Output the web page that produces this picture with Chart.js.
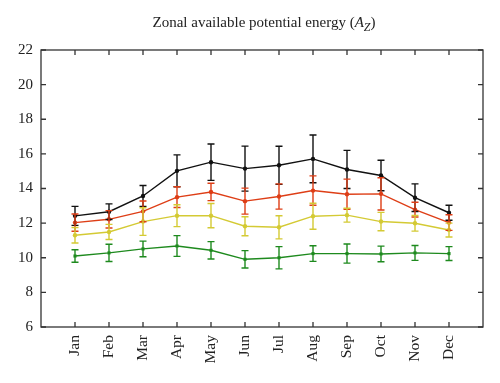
<!DOCTYPE html>
<html>
<head>
<meta charset="utf-8">
<script src="https://cdn.jsdelivr.net/npm/chart.js@4"></script>
<style>
  html, body { margin: 0; padding: 0; background: #fff; }
  #wrap { position: relative; width: 500px; height: 383px; }
  #title { position: absolute; left: 41px; width: 446px; top: 14px; text-align: center;
           font-family: "Liberation Serif", "DejaVu Serif", serif; font-size: 15px; line-height: 16px; color: #222; }
  #title sub { font-size: 12px; vertical-align: -4px; line-height: 0; }
  canvas { position: absolute; left: 0; top: 0; }
</style>
</head>
<body>
<div id="wrap">
  <canvas id="c" width="500" height="383"></canvas>
  <div id="title">Zonal available potential energy (<i>A</i><sub><i>Z</i></sub>)</div>
</div>
<script>
const months = ['Jan','Feb','Mar','Apr','May','Jun','Jul','Aug','Sep','Oct','Nov','Dec'];
const yTicks = [6, 8, 10, 12, 14, 16, 18, 20, 22];

const blackVals = [12.42, 12.66, 13.57, 15.02, 15.52, 15.15, 15.34, 15.71, 15.10, 14.75, 13.47, 12.60];
const blackErr  = [0.55, 0.45, 0.60, 0.92, 1.05, 1.30, 1.10, 1.38, 1.10, 0.88, 0.80, 0.43];
const redVals   = [12.03, 12.22, 12.68, 13.50, 13.80, 13.27, 13.54, 13.88, 13.67, 13.69, 12.78, 12.03];
const redErr    = [0.50, 0.50, 0.60, 0.60, 0.50, 0.75, 0.73, 0.85, 0.87, 0.93, 0.43, 0.45];
const yelVals   = [11.30, 11.49, 12.09, 12.43, 12.43, 11.82, 11.76, 12.40, 12.46, 12.09, 11.99, 11.60];
const yelErr    = [0.45, 0.44, 0.80, 0.63, 0.70, 0.55, 0.67, 0.75, 0.40, 0.53, 0.45, 0.40];
const grnVals   = [10.10, 10.28, 10.51, 10.68, 10.43, 9.91, 10.00, 10.24, 10.24, 10.22, 10.28, 10.24];
const grnErr    = [0.36, 0.50, 0.45, 0.60, 0.50, 0.50, 0.64, 0.45, 0.55, 0.45, 0.43, 0.40];

const colors = { black: '#111111', red: 'rgb(222,62,22)', yellow: 'rgb(212,202,52)', green: 'rgb(30,138,30)' };

function pts(vals) { return vals.map((v, i) => ({ x: i + 1, y: v })); }
function ds(vals, err, color, style) {
  return {
    data: pts(vals), err: err, borderColor: color, backgroundColor: color,
    borderWidth: 1.4, pointRadius: 2.2, pointStyle: style, pointBorderWidth: 0,
    tension: 0, fill: false
  };
}

const errorBars = {
  id: 'errorBars',
  afterDatasetsDraw(chart) {
    const ctx = chart.ctx, xs = chart.scales.x, ys = chart.scales.y;
    ctx.save();
    chart.data.datasets.forEach(d => {
      ctx.strokeStyle = d.borderColor;
      ctx.lineWidth = 1.4;
      d.data.forEach((p, i) => {
        const px = xs.getPixelForValue(p.x);
        const t = ys.getPixelForValue(p.y + d.err[i]);
        const b = ys.getPixelForValue(p.y - d.err[i]);
        ctx.beginPath();
        ctx.moveTo(px, t); ctx.lineTo(px, b);
        ctx.moveTo(px - 3.5, t); ctx.lineTo(px + 3.5, t);
        ctx.moveTo(px - 3.5, b); ctx.lineTo(px + 3.5, b);
        ctx.stroke();
      });
    });
    ctx.restore();
  }
};

const frame = {
  id: 'frame',
  afterDraw(chart) {
    const ctx = chart.ctx, a = chart.chartArea, xs = chart.scales.x, ys = chart.scales.y;
    ctx.save();
    ctx.strokeStyle = '#333';
    ctx.lineWidth = 1.3;
    ctx.strokeRect(a.left, a.top, a.right - a.left, a.bottom - a.top);
    ctx.beginPath();
    xs.ticks.forEach(t => {
      const px = xs.getPixelForValue(t.value);
      ctx.moveTo(px, a.bottom); ctx.lineTo(px, a.bottom - 5);
      ctx.moveTo(px, a.top); ctx.lineTo(px, a.top + 5);
    });
    ys.ticks.forEach(t => {
      const py = ys.getPixelForValue(t.value);
      ctx.moveTo(a.left, py); ctx.lineTo(a.left + 5, py);
      ctx.moveTo(a.right, py); ctx.lineTo(a.right - 5, py);
    });
    ctx.stroke();
    ctx.restore();
  }
};

new Chart(document.getElementById('c'), {
  type: 'line',
  data: {
    datasets: [
      ds(blackVals, blackErr, colors.black, 'circle'),
      ds(redVals, redErr, colors.red, 'circle'),
      ds(yelVals, yelErr, colors.yellow, 'circle'),
      ds(grnVals, grnErr, colors.green, 'rect')
    ]
  },
  options: {
    responsive: false,
    animation: false,
    layout: { padding: { top: 50, right: 17, left: 0, bottom: 0 } },
    plugins: { legend: { display: false }, title: { display: false }, tooltip: { enabled: false } },
    scales: {
      x: {
        type: 'linear', min: 0, max: 13,
        afterBuildTicks: s => { s.ticks = months.map((m, i) => ({ value: i + 1 })); },
        afterFit: s => { s.height = 56; },
        grid: { display: false, drawTicks: false },
        border: { display: false },
        ticks: {
          autoSkip: false, minRotation: 90, maxRotation: 90, padding: 8,
          color: '#222', font: { family: 'Liberation Serif', size: 15.5 },
          callback: v => months[v - 1] || ''
        }
      },
      y: {
        min: 6, max: 22,
        afterBuildTicks: s => { s.ticks = yTicks.map(v => ({ value: v })); },
        afterFit: s => { s.width = 41; },
        grid: { display: false, drawTicks: false },
        border: { display: false },
        ticks: {
          padding: 8, color: '#222', font: { family: 'Liberation Serif', size: 15 },
          callback: v => String(v)
        }
      }
    }
  },
  plugins: [errorBars, frame]
});
</script>
</body>
</html>
